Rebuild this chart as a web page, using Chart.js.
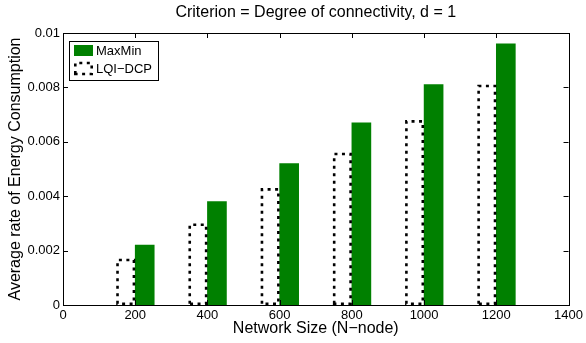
<!DOCTYPE html>
<html>
<head>
<meta charset="utf-8">
<title>Average rate of Energy Consumption</title>
<script src="https://cdn.jsdelivr.net/npm/chart.js@4.4.1/dist/chart.umd.min.js"></script>
<style>
  html, body { margin: 0; padding: 0; background: #fff; }
</style>
</head>
<body>
<canvas id="energyChart" width="586" height="343"></canvas>
<script>
/* ============================================================
   ENERGY CONSUMPTION vs NETWORK SIZE — grouped bars
   ============================================================ */

const networkSizes = [200, 400, 600, 800, 1000, 1200];
const maxMinRate   = [0.0022, 0.0038, 0.0052, 0.0067, 0.0081, 0.0096];
const lqiDcpRate   = [0.0017, 0.0030, 0.0043, 0.0056, 0.0068, 0.0081];

const xTicks = [0, 200, 400, 600, 800, 1000, 1200, 1400];
const yTicks = [0, 0.002, 0.004, 0.006, 0.008, 0.01];

const chartTitle = 'Criterion = Degree of connectivity, d = 1';
const xLabel = 'Network Size (N\u2212node)';
const yLabel = 'Average rate of Energy Consumption';
const seriesNames = ['LQI\u2212DCP', 'MaxMin'];

const FONT = "'Liberation Sans', Arial, Helvetica, sans-serif";
const GREEN = '#008000';

// Frame, inward ticks, title, dotted bars and the boxed legend
const matlabLook = {
  id: 'matlabLook',
  afterDatasetsDraw(chart) {
    const ctx = chart.ctx;
    const meta = chart.getDatasetMeta(0);
    ctx.save();
    ctx.strokeStyle = '#000';
    ctx.lineWidth = 2.6;
    ctx.setLineDash([3, 4.5]);
    ctx.lineCap = 'butt';
    meta.data.forEach(bar => {
      const { x, y, base, width } = bar.getProps(['x', 'y', 'base', 'width'], true);
      const h = ctx.lineWidth / 2;
      const l = x - width / 2 + h, r = x + width / 2 - h;
      ctx.beginPath();
      ctx.moveTo(l, base - h);
      ctx.lineTo(l, y + h);
      ctx.lineTo(r, y + h);
      ctx.lineTo(r, base - h);
      ctx.closePath();
      ctx.stroke();
    });
    ctx.restore();
  },
  afterDraw(chart) {
    const { ctx, chartArea: a, scales } = chart;
    ctx.save();

    // axes box
    ctx.strokeStyle = '#000';
    ctx.lineWidth = 1;
    ctx.strokeRect(Math.round(a.left) + 0.5, Math.round(a.top) + 0.5,
      Math.round(a.right - a.left), Math.round(a.bottom - a.top));

    // tick marks pointing into the plot
    const tl = 5;
    ctx.beginPath();
    scales.x.ticks.forEach(t => {
      const px = Math.round(scales.x.getPixelForValue(t.value)) + 0.5;
      ctx.moveTo(px, a.bottom); ctx.lineTo(px, a.bottom - tl);
      ctx.moveTo(px, a.top); ctx.lineTo(px, a.top + tl);
    });
    scales.y.ticks.forEach(t => {
      const py = Math.round(scales.y.getPixelForValue(t.value)) + 0.5;
      ctx.moveTo(a.left, py); ctx.lineTo(a.left + tl, py);
      ctx.moveTo(a.right, py); ctx.lineTo(a.right - tl, py);
    });
    ctx.stroke();

    // title
    ctx.fillStyle = '#000';
    ctx.font = '16px ' + FONT;
    ctx.textAlign = 'center';
    ctx.textBaseline = 'middle';
    ctx.fillText(chartTitle, (a.left + a.right) / 2, 13);

    // legend
    const lx = a.left + 6, ly = a.top + 8;
    ctx.fillStyle = '#fff';
    ctx.fillRect(lx, ly, 89, 39);
    ctx.lineWidth = 1;
    ctx.strokeRect(lx + 0.5, ly + 0.5, 89, 39);

    ctx.fillStyle = GREEN;
    ctx.fillRect(lx + 5, ly + 4, 19, 11);

    ctx.lineWidth = 2.6;
    ctx.setLineDash([3, 4.5]);
    ctx.beginPath();
    ctx.moveTo(lx + 6.3, ly + 33);
    ctx.lineTo(lx + 6.3, ly + 22);
    ctx.lineTo(lx + 22.7, ly + 22);
    ctx.lineTo(lx + 22.7, ly + 33);
    ctx.closePath();
    ctx.stroke();
    ctx.setLineDash([]);

    ctx.fillStyle = '#000';
    ctx.font = '13px ' + FONT;
    ctx.textAlign = 'left';
    ctx.fillText(seriesNames[1], lx + 27, ly + 10);
    ctx.fillText(seriesNames[0], lx + 27, ly + 28);

    ctx.restore();
  }
};

new Chart(document.getElementById('energyChart'), {
  type: 'bar',
  data: {
    datasets: [
      {
        label: seriesNames[0],
        data: networkSizes.map((n, i) => ({ x: n, y: lqiDcpRate[i] })),
        backgroundColor: 'rgba(255,255,255,0)',
        borderWidth: 0,
        barThickness: 19
      },
      {
        label: seriesNames[1],
        data: networkSizes.map((n, i) => ({ x: n, y: maxMinRate[i] })),
        backgroundColor: GREEN,
        borderWidth: 0,
        barThickness: 19
      }
    ]
  },
  options: {
    responsive: false,
    animation: false,
    devicePixelRatio: 1,
    layout: { padding: { top: 33, right: 15, left: 0, bottom: 0 } },
    plugins: { legend: { display: false }, title: { display: false }, tooltip: { enabled: false } },
    scales: {
      x: {
        type: 'linear',
        min: 0,
        max: 1400,
        offset: false,
        grid: { display: false, drawTicks: false, tickLength: 0, offset: false },
        border: { display: false },
        afterBuildTicks: s => { s.ticks = xTicks.map(v => ({ value: v })); },
        afterFit: s => { s.height = 38; },
        ticks: {
          color: '#000', padding: 3, maxRotation: 0, font: { family: FONT, size: 13 },
          callback: v => String(v)
        },
        title: { display: true, text: xLabel, color: '#000', padding: { top: 0, bottom: 5 }, font: { family: FONT, size: 16 } }
      },
      y: {
        min: 0,
        max: 0.01,
        grid: { display: false, drawTicks: false, tickLength: 0 },
        border: { display: false },
        afterBuildTicks: s => { s.ticks = yTicks.map(v => ({ value: v })); },
        afterFit: s => { s.width = 63; },
        ticks: {
          color: '#000', padding: 3, font: { family: FONT, size: 13 },
          callback: v => String(+v.toFixed(3))
        },
        title: { display: true, text: yLabel, color: '#000', padding: { top: 6, bottom: 0 }, font: { family: FONT, size: 16 } }
      }
    }
  },
  plugins: [matlabLook]
});
</script>
</body>
</html>
